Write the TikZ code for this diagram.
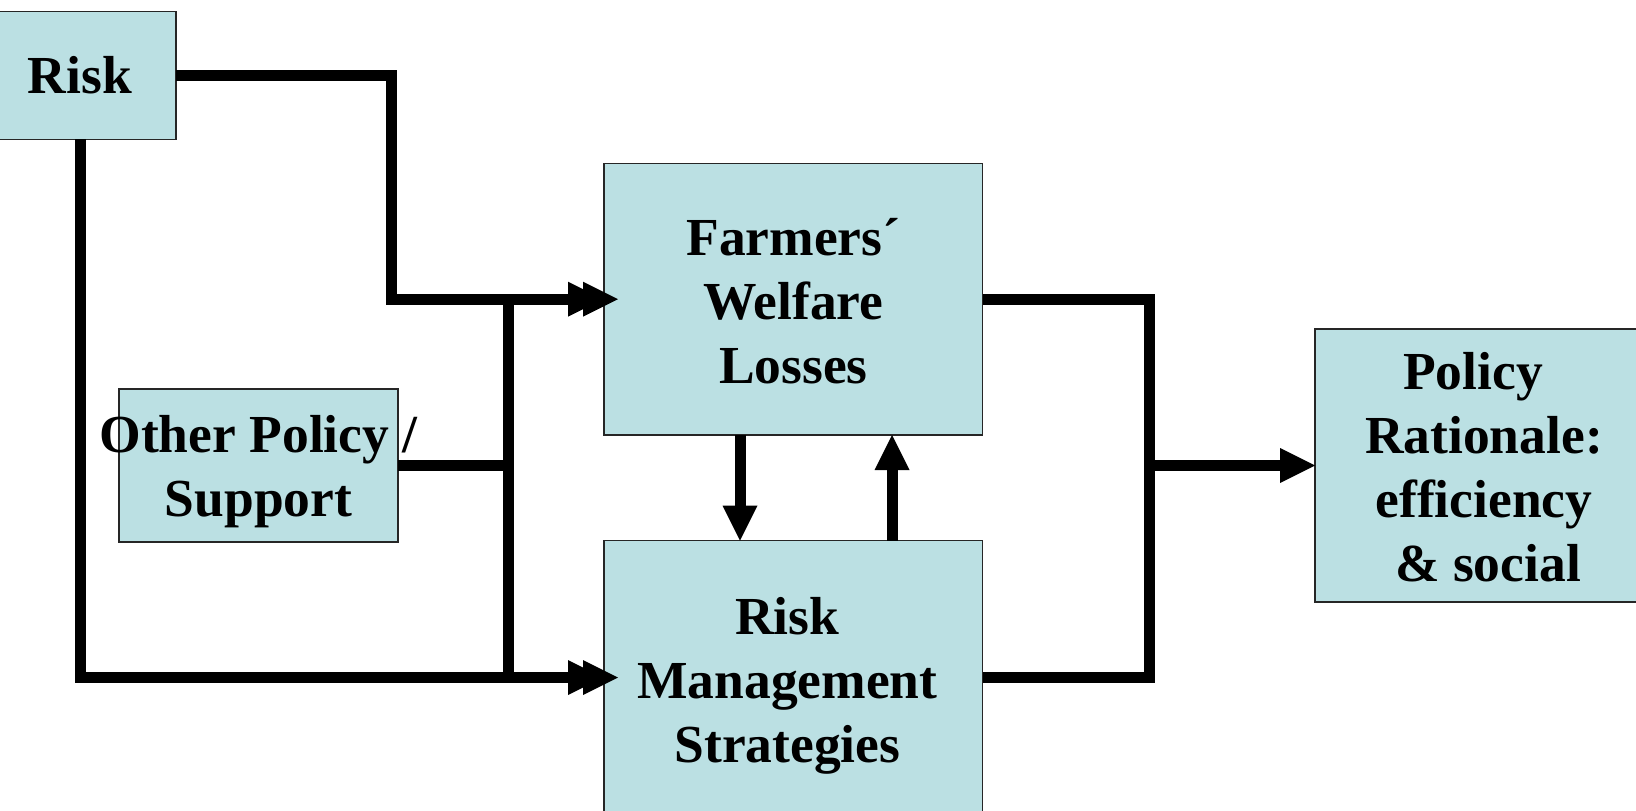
\documentclass[tikz,border=0pt]{standalone}
\usepackage{fontspec}
\setmainfont{Liberation Serif}
\usetikzlibrary{arrows.meta,calc}
\definecolor{boxfill}{RGB}{187,224,227}
\begin{document}
\begin{tikzpicture}[x=1pt,y=-1pt,
  box/.style={draw=black!85,line width=1.2pt,fill=boxfill,inner sep=0pt,outer sep=0pt},
  txt/.style={font=\bfseries\fontsize{53.5}{64}\selectfont,align=center,inner sep=0pt},
  conn/.style={line width=11pt,draw=black},
  tip/.style={-{Triangle[length=35pt,width=35pt,line width=0pt]}},
  dtip/.style={-{Triangle[length=35pt,width=35pt,line width=0pt,sep=-20pt]Triangle[length=35pt,width=35pt,line width=0pt]},shorten >=-14pt}
]
\useasboundingbox (0,0) rectangle (1636,811);
\fill[white] (0,0) rectangle (1636,811);

\node[box,minimum width=192pt,minimum height=128pt,label={[txt]center:Risk}] (risk) at (80,75.2) {};
\node[box,minimum width=378.7pt,minimum height=271.7pt,label={[txt,yshift=-2pt]center:{Farmers´\\Welfare\\Losses}}] (fwl) at (793.35,299.15) {};
\node[box,minimum width=378.7pt,minimum height=273.6pt,label={[txt,xshift=-6pt,yshift=-8pt]center:{Risk\\Management\\Strategies}}] (rms) at (793.35,677.5) {};
\node[box,minimum width=279pt,minimum height=153pt,label={[txt,yshift=-6pt]center:{Other Policy /\\Support}}] (op) at (258.5,465.5) {};
\node[box,minimum width=358pt,minimum height=273pt,label={[txt,xshift=-10pt,yshift=-2pt]center:{Policy\rule{22pt}{0pt}\\Rationale:\\efficiency\\\rule{8pt}{0pt}\& social}}] (pr) at (1494,465.5) {};

\coordinate (jt) at (508,299.15);
\coordinate (jb) at (508,677.5);
\coordinate (jr) at (1149,465.5);

\draw[conn,dtip] (risk.east) -- ++(215,0) |- (fwl.west);
\draw[conn,dtip] (risk.south) |- (rms.west);
\draw[conn] (jt) -- (jb);
\draw[conn] (op.east) -- (op.east -| jt);
\draw[conn] (fwl.east) -| (jr) |- (rms.east);
\draw[conn,tip] (jr) -- (pr.west);
\draw[conn,tip] ([xshift=-53.35pt]fwl.south) -- ([xshift=-53.35pt]rms.north);
\draw[conn,tip] ([xshift=98.65pt]rms.north) -- ([xshift=98.65pt]fwl.south);
\end{tikzpicture}
\end{document}
